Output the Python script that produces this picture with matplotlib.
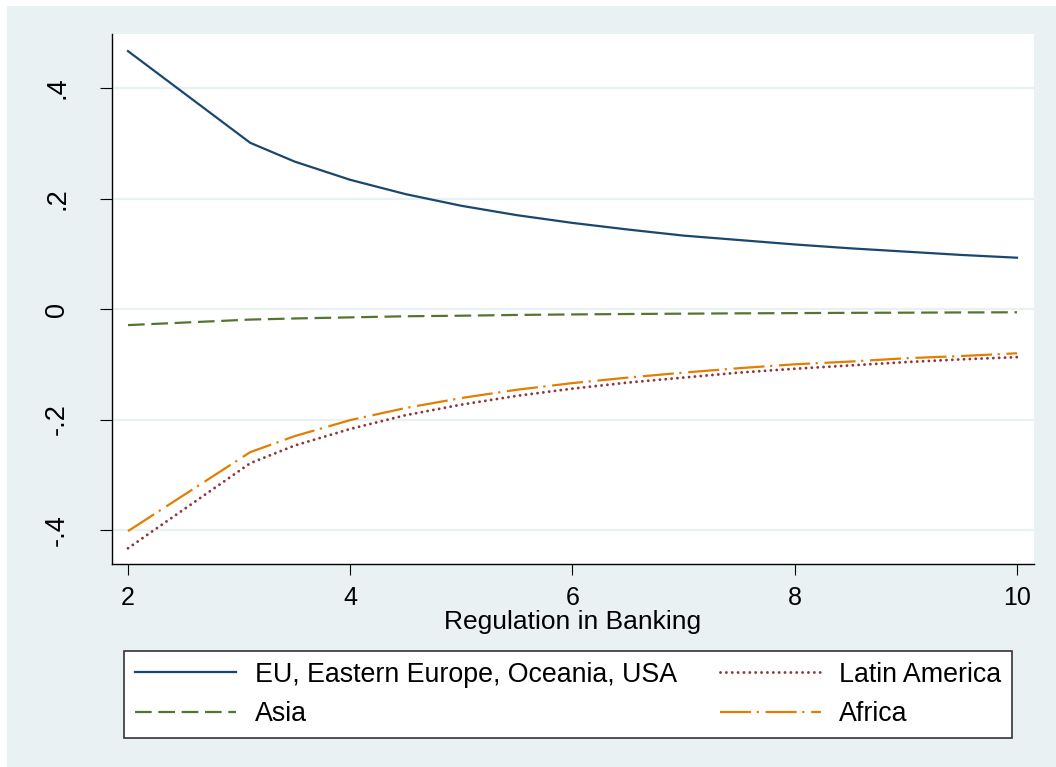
import matplotlib
matplotlib.use("Agg")
import matplotlib.pyplot as plt
from matplotlib.patches import Rectangle

# ---- data ----
x_vals = [2, 3.1, 3.5, 4, 4.5, 5, 5.5, 6, 6.5, 7, 7.5, 8, 8.5, 9, 9.5, 10]
eu_vals = [0.467, 0.301, 0.267, 0.234, 0.208, 0.187, 0.170, 0.156, 0.144,
           0.133, 0.125, 0.117, 0.110, 0.104, 0.098, 0.093]
asia_vals = [-0.029, -0.019, -0.017, -0.015, -0.013, -0.012, -0.0106, -0.0097,
             -0.0089, -0.0083, -0.0077, -0.0073, -0.0068, -0.0065, -0.0061, -0.0058]
latin_vals = [-0.433, -0.279, -0.247, -0.217, -0.192, -0.173, -0.157, -0.144,
              -0.133, -0.124, -0.115, -0.108, -0.102, -0.096, -0.091, -0.087]
africa_vals = [-0.402, -0.259, -0.230, -0.201, -0.179, -0.161, -0.146, -0.134,
               -0.124, -0.115, -0.107, -0.100, -0.095, -0.089, -0.085, -0.080]
series_labels = ["EU, Eastern Europe, Oceania, USA", "Asia", "Latin America", "Africa"]
x_ticks = [2, 4, 6, 8, 10]
y_ticks = [-0.4, -0.2, 0, 0.2, 0.4]
y_ticklabels = ["-.4", "-.2", "0", ".2", ".4"]
x_title = "Regulation in Banking"

# ---- styling ----
plt.rcParams['font.family'] = ['Liberation Sans', 'DejaVu Sans']
BG = "#EAF1F3"
W, H = 1056, 767

fig = plt.figure(figsize=(W / 100, H / 100), dpi=100)
fig.patch.set_facecolor("white")
fig.patches.append(Rectangle((7 / W, 0), (W - 7) / W, (H - 6) / H,
                             transform=fig.transFigure, facecolor=BG,
                             edgecolor="none", zorder=-10))

L, R, T, B = 112, 1034, 34, 564
ax = fig.add_axes([L / W, (H - B) / H, (R - L) / W, (B - T) / H])
ax.set_zorder(2)
ax.set_facecolor("white")
ax.set_xlim(1.856, 10.153)
ax.set_ylim(-0.4615, 0.498)

for s in ["top", "right"]:
    ax.spines[s].set_visible(False)
for s in ["left", "bottom"]:
    ax.spines[s].set_color("black")
    ax.spines[s].set_linewidth(1.0)

ax.set_yticks(y_ticks)
ax.set_yticklabels(y_ticklabels, rotation=90, va="center", ha="center")
ax.set_xticks(x_ticks)
ax.set_xticklabels([str(v) for v in x_ticks])
ax.tick_params(axis="y", length=8.5, width=0.8, pad=31, labelsize=19.5)
ax.tick_params(axis="x", length=8, width=0.8, pad=8, labelsize=18)
ax.yaxis.grid(True, color=BG, linewidth=1.6, zorder=0)
ax.set_axisbelow(True)

lw = 1.6
ax.plot(x_vals, eu_vals, color="#1a476f", lw=lw, solid_joinstyle="round",
        label=series_labels[0], zorder=3)
ax.plot(x_vals, asia_vals, color="#55752f", lw=lw, linestyle=(0, (7.5, 3)),
        label=series_labels[1], zorder=3)
ax.plot(x_vals, latin_vals, color="#90353b", lw=2.1, linestyle=(0, (0.01, 2.0)),
        dash_capstyle="round", label=series_labels[2], zorder=3)
ax.plot(x_vals, africa_vals, color="#e37e00", lw=lw, linestyle=(0, (14, 2.5, 1, 3)),
        label=series_labels[3], zorder=3)

fig.text((L + R) / 2 / W, (H - 622) / H, x_title, ha="center", va="center",
         fontsize=19, zorder=3)

leg = fig.legend(loc="upper left", bbox_to_anchor=(124 / W, (H - 651) / H),
                 ncol=2, fontsize=19.3, frameon=True, fancybox=False,
                 handlelength=3.77, handletextpad=0.7, columnspacing=1.6,
                 labelspacing=0.5, borderpad=0.4, borderaxespad=0)
leg.set_zorder(5)
leg.get_frame().set_edgecolor("#333333")
leg.get_frame().set_linewidth(1.2)
leg.get_frame().set_facecolor("white")
leg.get_frame().set_alpha(1)

fig.savefig("out.png", dpi=100, facecolor=fig.get_facecolor())
